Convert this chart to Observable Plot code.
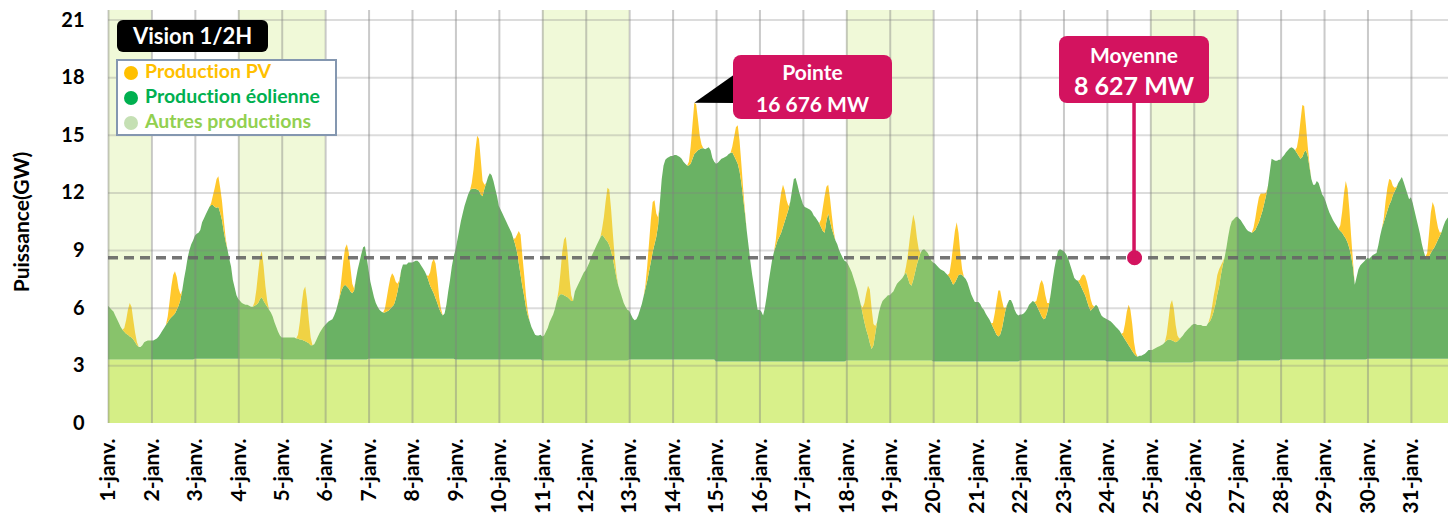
<!DOCTYPE html>
<html><head><meta charset="utf-8">
<script src="https://cdn.jsdelivr.net/npm/d3@7"></script>
<script src="https://cdn.jsdelivr.net/npm/@observablehq/plot@0.6"></script>
<style>
html,body{margin:0;padding:0;background:#fff;}
#wrap{position:relative;width:1448px;height:515px;overflow:hidden;font-family:Lato,"Open Sans",sans-serif;font-weight:700;font-variant-ligatures:none;}
#wrap svg text{font-variant-ligatures:none;}
.abs{position:absolute;box-sizing:border-box;white-space:nowrap;}
.ann{background:#d3135f;color:#fff;border-radius:8px;text-align:center;}
</style></head>
<body><div id="wrap"></div>
<script>
// ---- Data (GW) ----
const jours = d3.range(1, 32);
const etiquettes = jours.map(j => j + "-janv.");
const yTicks = [0, 3, 6, 9, 12, 15, 18, 21];
const autres = [3.3,3.3,3.35,3.35,3.3,3.3,3.35,3.35,3.3,3.3,3.25,3.25,3.3,3.3,3.2,3.2,3.2,3.25,3.25,3.2,3.2,3.25,3.25,3.2,3.15,3.2,3.25,3.3,3.3,3.35,3.35];
// production éolienne, valeurs horaires (0h..23h) par jour
const eolien = [
 [2.8,2.7,2.6,2.5,2.3,2.1,1.9,1.7,1.55,1.45,1.35,1.3,1.2,1.15,1.05,0.9,0.75,0.65,0.65,0.75,0.9,0.95,1.0,1.0],
 [1.0,1.0,1.05,1.1,1.2,1.35,1.5,1.65,1.8,1.95,2.1,2.2,2.3,2.4,2.6,2.8,3.1,3.6,4.2,4.7,5.3,5.7,6.0,6.2],
 [6.4,6.5,6.55,6.7,7.1,7.3,7.5,7.7,7.9,8.0,8.0,7.9,7.85,7.9,7.6,7.2,6.6,6.1,5.7,5.2,4.8,4.1,3.7,3.3],
 [3.1,3.0,2.9,2.85,2.8,2.8,2.75,2.7,2.7,2.75,2.8,2.9,3.1,3.2,3.0,2.85,2.7,2.55,2.4,2.2,1.9,1.65,1.4,1.2],
 [1.15,1.15,1.15,1.15,1.15,1.15,1.15,1.15,1.1,1.1,1.05,1.05,1.0,0.95,0.9,0.85,0.75,0.75,0.8,1.0,1.2,1.4,1.55,1.7],
 [1.8,1.9,2.0,2.05,2.1,2.3,2.55,2.9,3.25,3.6,3.8,3.9,3.8,3.7,3.55,3.45,3.6,4.2,4.7,5.1,5.5,5.85,5.9,5.3],
 [4.6,4.0,3.6,3.2,2.9,2.7,2.55,2.45,2.4,2.4,2.45,2.5,2.6,2.7,2.8,3.1,3.5,4.0,4.6,4.9,4.9,4.9,5.0,5.0],
 [5.0,5.05,5.1,5.1,5.0,4.85,4.7,4.55,4.35,4.1,3.8,3.6,3.4,3.15,2.9,2.6,2.4,2.25,2.35,2.8,3.5,4.1,4.8,5.3],
 [5.7,6.2,6.7,7.2,7.6,8.0,8.3,8.6,8.8,8.9,8.9,8.9,8.85,8.8,8.6,8.5,8.9,9.2,9.5,9.7,9.6,9.3,8.9,8.5],
 [8.0,7.8,7.6,7.4,7.2,7.0,6.8,6.6,6.3,6.0,5.6,5.0,4.4,3.8,3.3,2.7,2.3,2.0,1.7,1.5,1.3,1.25,1.25,1.3],
 [1.25,1.3,1.5,1.7,2.0,2.2,2.4,2.7,3.1,3.35,3.45,3.45,3.4,3.35,3.3,3.2,3.1,3.1,3.6,3.8,4.0,4.2,4.4,4.6],
 [4.7,4.9,5.1,5.4,5.6,5.8,6.0,6.2,6.4,6.55,6.45,6.3,6.2,6.0,5.7,5.3,4.8,4.3,3.9,3.6,3.3,3.0,2.8,2.65],
 [2.55,2.35,2.15,2.05,2.1,2.3,2.6,2.9,3.3,3.7,4.1,4.6,5.1,5.6,6.0,6.4,7.0,8.2,9.4,10.1,10.4,10.5,10.55,10.6],
 [10.6,10.65,10.65,10.6,10.55,10.45,10.3,10.2,10.1,10.1,10.2,10.45,10.7,10.8,10.9,10.95,11.0,11.0,10.95,11.0,11.05,10.9,10.5,10.3],
 [10.3,10.35,10.45,10.55,10.6,10.65,10.7,10.8,10.85,10.9,10.7,10.5,10.3,9.9,9.3,8.5,7.7,6.8,6.0,5.2,4.5,3.9,3.3,2.7],
 [2.7,2.6,2.4,2.8,3.4,4.1,4.7,5.3,5.7,6.0,6.3,6.5,6.7,7.0,7.3,7.6,7.9,8.3,8.9,9.5,9.55,9.2,8.8,8.5],
 [8.2,8.05,8.0,7.95,7.9,7.8,7.6,7.5,7.35,7.2,7.0,6.8,6.7,7.3,7.7,7.3,6.9,6.6,6.3,6.1,5.8,5.6,5.4,5.25],
 [5.15,5.0,4.8,4.6,4.3,4.0,3.7,3.3,2.9,2.45,2.0,1.6,1.3,0.9,0.6,0.8,1.4,2.0,2.5,2.85,3.1,3.2,3.3,3.4],
 [3.4,3.5,3.6,3.8,4.0,4.1,4.2,4.3,4.45,4.6,4.3,4.0,3.9,4.2,4.6,5.0,5.3,5.6,5.75,5.8,5.7,5.6,5.4,5.2],
 [5.15,5.1,5.0,4.9,4.8,4.75,4.7,4.6,4.5,4.4,4.2,4.0,4.1,4.3,4.5,4.55,4.5,4.4,4.3,4.1,3.8,3.5,3.3,3.1],
 [3.1,3.1,3.0,2.8,2.7,2.5,2.35,2.2,2.0,1.8,1.6,1.4,1.3,1.4,1.7,2.2,2.7,3.0,3.2,3.2,3.0,2.7,2.5,2.4],
 [2.4,2.4,2.45,2.55,2.7,2.9,3.0,3.1,3.05,2.9,2.7,2.5,2.3,2.15,2.2,2.5,2.9,3.5,4.2,4.8,5.3,5.7,5.8,5.75],
 [5.7,5.6,5.45,5.2,4.9,4.6,4.3,4.2,4.15,4.0,3.8,3.6,3.4,3.1,2.8,2.6,2.7,2.8,2.9,2.8,2.55,2.35,2.25,2.2],
 [2.2,2.15,2.1,2.0,1.9,1.8,1.7,1.6,1.45,1.3,1.15,1.0,0.85,0.7,0.55,0.4,0.3,0.25,0.3,0.3,0.35,0.4,0.5,0.6],
 [0.65,0.65,0.7,0.75,0.8,0.85,0.9,0.95,1.05,1.15,1.2,1.2,1.15,1.1,1.05,1.1,1.2,1.3,1.4,1.55,1.65,1.75,1.85,1.95],
 [1.95,1.95,1.9,1.9,1.9,1.85,1.85,1.85,2.0,2.1,2.3,2.6,3.0,3.5,3.9,4.5,5.0,5.4,5.9,6.5,7.0,7.3,7.4,7.5],
 [7.5,7.4,7.3,7.15,7.0,6.85,6.75,6.7,6.65,6.7,6.8,7.0,7.2,7.5,7.8,8.2,8.6,9.1,9.8,10.5,10.45,10.4,10.4,10.45],
 [10.4,10.55,10.65,10.8,10.9,11.0,11.05,11.0,10.9,10.75,10.6,10.45,10.55,10.8,10.9,10.6,10.0,9.4,9.1,9.1,9.3,9.2,8.9,8.6],
 [8.45,8.2,7.9,7.65,7.45,7.25,7.1,6.95,6.8,6.7,6.6,6.45,6.3,6.1,5.8,5.4,4.8,3.9,4.3,4.7,4.9,5.0,5.1,5.2],
 [5.25,5.2,5.3,5.4,5.45,5.5,5.9,6.4,6.8,7.1,7.4,7.7,8.0,8.2,8.5,8.7,8.9,9.15,9.3,9.45,9.2,8.9,8.6,8.3],
 [8.4,8.1,7.7,7.3,6.9,6.5,6.0,5.6,5.3,5.2,5.3,5.5,5.65,5.8,6.0,6.2,6.4,6.6,6.9,7.15,7.3,7.4,7.5,7.5]
];
// production PV, heures 8h..17h par jour
const pvHeures = [8, 9, 10, 11, 12, 13, 14, 15, 16, 17];
const pv = [
 [0,0.2,0.7,1.3,1.75,1.6,1.0,0.5,0.15,0],
 [0,0.3,0.9,1.6,2.1,2.2,1.7,0.9,0.3,0],
 [0,0.1,0.5,1.0,1.5,1.6,1.3,1.0,0.6,0.2],
 [0,0.2,0.8,1.6,2.2,2.4,1.8,0.9,0.3,0],
 [0,0.2,0.9,1.8,2.6,2.85,2.2,1.2,0.4,0],
 [0.1,0.6,1.3,1.9,2.2,1.9,1.2,0.5,0.1,0],
 [0,0.2,0.7,1.2,1.6,1.75,1.5,0.9,0.4,0.1],
 [0,0.2,0.7,1.4,1.8,1.8,1.3,0.6,0.2,0],
 [0,0.3,1.0,2.0,2.8,2.7,1.8,0.8,0.2,0],
 [0,0.3,0.9,1.7,2.1,1.6,1.1,0.6,0.2,0],
 [0,0.3,1.1,2.2,2.9,3.1,2.3,1.1,0.3,0],
 [0,0.3,1.0,2.0,2.8,2.9,2.2,1.3,0.6,0.2],
 [0,0.2,0.8,1.5,2.2,2.6,2.3,1.2,0.4,0],
 [0,0.2,0.9,1.8,2.676,2.5,1.6,0.7,0.2,0],
 [0,0.3,1.0,1.7,2.0,1.6,1.0,0.5,0.15,0],
 [0,0.3,0.9,1.6,2.1,2.2,1.6,0.8,0.2,0],
 [0,0,0.4,1.2,1.9,1.8,1.5,1.2,0.7,0.2],
 [0,0.3,1.0,1.9,2.6,2.8,2.1,1.1,0.4,0],
 [0,0.3,1.2,2.3,3.1,3.4,2.6,1.4,0.5,0],
 [0,0.2,1.0,2.0,2.7,2.95,2.2,1.1,0.3,0],
 [0,0.2,0.9,1.7,2.4,2.3,1.5,0.6,0.1,0],
 [0,0.2,0.8,1.5,1.9,1.8,1.2,0.5,0.1,0],
 [0,0.2,0.6,0.9,1.0,1.0,0.9,0.6,0.2,0],
 [0,0.2,0.8,1.6,2.1,2.0,1.4,0.6,0.15,0],
 [0,0.3,1.0,1.8,2.1,1.7,0.9,0.3,0.05,0],
 [0,0.2,0.5,0.8,0.9,1.0,0.9,0.5,0.2,0],
 [0,0.2,0.6,1.0,1.3,1.2,0.9,0.5,0.15,0],
 [0,0.3,1.0,2.0,2.7,2.4,1.3,0.5,0.1,0],
 [0,0.3,1.1,2.2,3.0,2.8,2.0,1.0,0.3,0],
 [0,0.2,0.8,1.2,1.35,1.1,0.5,0.2,0.05,0],
 [0,0.3,1.2,2.1,2.5,2.1,1.3,0.6,0.15,0]
];
// week-ends et jours fériés (jour de début, jour de fin exclu)
const weekends = [{debut: 1, fin: 2}, {debut: 4, fin: 6}, {debut: 11, fin: 13}, {debut: 18, fin: 20}, {debut: 25, fin: 27}];
const moyenne = 8.627;          // GW
const moyenneHeure = 567;       // position de l'étiquette (heures depuis le 1er janv. 0h)
const series = ["Production PV", "Production éolienne", "Autres productions"];
const couleursLegende = ["#ffc000", "#00b050", "#c5e0b4"];
const couleursTexte = ["#ffc000", "#00b050", "#92d050"];
const titre = "Vision 1/2H";
const titreY = "Puissance(GW)";

// ---- Build rows ----
const rows = [];
jours.forEach((j, d) => {
  for (let h = 0; h < 24; h++) {
    const a = autres[d];
    const w = a + eolien[d][h];
    const k = pvHeures.indexOf(h);
    const p = w + (k >= 0 ? pv[d][k] : 0);
    rows.push({t: d * 24 + h, a, w, p});
  }
});
const pic = d3.greatest(rows, r => r.p);
const fmtMW = v => String(Math.round(v * 1000)).replace(/\B(?=(\d{3})+(?!\d))/g, " ") + " MW";

const ROSE = "#d3135f";
const FONT = "Lato, 'Open Sans', sans-serif";

const chart = Plot.plot({
  width: 1448, height: 515,
  marginLeft: 108, marginRight: 0, marginTop: 10, marginBottom: 92,
  style: `font-family:${FONT};font-weight:700;font-size:20px;color:#000;background:#fff;overflow:hidden;`,
  x: {domain: [0, 740.5]},
  y: {domain: [0, 21.5]},
  marks: [
    Plot.areaY(rows, {x: "t", y1: 0, y2: "a", fill: "#d8f08a"}),
    Plot.areaY(rows, {x: "t", y1: "a", y2: "w", fill: "#6ab264"}),
    Plot.areaY(rows, {x: "t", y1: "w", y2: "p", fill: "#ffc82c"}),
    Plot.rect(weekends, {x1: d => (d.debut - 1) * 24, x2: d => (d.fin - 1) * 24, fill: "#cdeb7d", fillOpacity: 0.3}),
    Plot.ruleY(yTicks.filter(v => v > 0), {stroke: "#808080", strokeOpacity: 0.28, strokeWidth: 2}),
    Plot.ruleX(jours, {x: j => (j - 1) * 24, stroke: "#808080", strokeOpacity: 0.42, strokeWidth: 2}),
    Plot.ruleY([moyenne], {stroke: "#666", strokeOpacity: 0.9, strokeWidth: 3.5, strokeDasharray: "10,6"}),
    Plot.axisY({ticks: yTicks, tickSize: 0, tickPadding: 24, label: null, fontSize: 20, fontWeight: 700}),
    Plot.axisX({ticks: jours.map(j => (j - 1) * 24), tickFormat: t => etiquettes[Math.round(t / 24)], tickRotate: -90, tickSize: 0, tickPadding: 15, label: null, fontSize: 21, fontWeight: 700}),
    Plot.dot([{t: moyenneHeure, v: moyenne}], {x: "t", y: "v", r: 7.5, fill: ROSE})
  ]
});

const wrap = document.getElementById("wrap");
wrap.appendChild(chart);

const xs = chart.scale("x"), ys = chart.scale("y");
const svg = d3.select(chart);

// titre de l'axe Y
svg.append("text")
  .attr("transform", "translate(29,222) rotate(-90)")
  .attr("text-anchor", "middle")
  .style("font-size", "21px").style("font-weight", 700).attr("fill", "#000")
  .text(titreY);

// annotation Pointe
const boxP = {left: 733, top: 55, w: 159, h: 64};
const tipX = xs.apply(pic.t), tipY = ys.apply(pic.p);
svg.append("polygon")
  .attr("points", `${boxP.left + 2},${boxP.top + 19} ${boxP.left + 2},${boxP.top + 48} ${tipX},${tipY}`)
  .attr("fill", "#000");

// annotation Moyenne : trait vertical
const mx = xs.apply(moyenneHeure);
const boxM = {left: mx - 75, top: 36, w: 150, h: 67};
svg.append("line")
  .attr("x1", mx).attr("x2", mx)
  .attr("y1", boxM.top + boxM.h - 2).attr("y2", ys.apply(moyenne))
  .attr("stroke", ROSE).attr("stroke-width", 3.5);

function add(html, css, cls) {
  const el = document.createElement("div");
  el.className = "abs " + (cls || "");
  el.innerHTML = html;
  Object.assign(el.style, css);
  wrap.appendChild(el);
  return el;
}

add(`<div style="line-height:32px;font-size:21px;padding-top:1px">Pointe</div><div style="line-height:32px;font-size:21px">${fmtMW(pic.p)}</div>`,
  {left: boxP.left + "px", top: boxP.top + "px", width: boxP.w + "px", height: boxP.h + "px"}, "ann");
add(`<div style="line-height:32px;font-size:21px;padding-top:3px">Moyenne</div><div style="line-height:29px;font-size:25px">${fmtMW(moyenne)}</div>`,
  {left: boxM.left + "px", top: boxM.top + "px", width: boxM.w + "px", height: boxM.h + "px"}, "ann");

// "Vision 1/2H"
add(titre, {left: "117px", top: "20px", width: "151px", height: "32px", background: "#000", color: "#fff",
  borderRadius: "6px", textAlign: "center", lineHeight: "32px", fontSize: "22px"});

// légende
add("", {left: "116px", top: "59px", width: "221px", height: "77px", background: "#fff", border: "2px solid #8497b0"});
series.forEach((s, i) => {
  const base = 78.3 + 25 * i;
  add("", {left: "124px", top: (base - 12) + "px", width: "14px", height: "14px", borderRadius: "50%", background: couleursLegende[i]});
  add(s, {left: "145px", top: (base - 20) + "px", lineHeight: "25px", fontSize: "19.5px", color: couleursTexte[i]});
});
</script>
</body></html>
